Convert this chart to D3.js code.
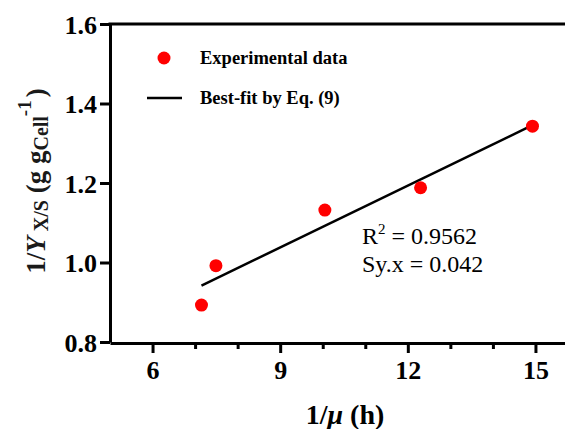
<!DOCTYPE html>
<html>
<head>
<meta charset="utf-8">
<script src="https://cdn.jsdelivr.net/npm/d3@7"></script>
<style>
  body { margin: 0; background: #fff; }
  svg { display: block; font-family: "Liberation Serif", "Times New Roman", serif; }
</style>
</head>
<body>
<svg id="chart" width="565" height="429"></svg>
<script>
// data
const invMu = [7.15, 7.49, 10.05, 12.30, 14.93];
const invY = [0.893, 0.992, 1.132, 1.188, 1.343];
const yTicks = [0.8, 1.0, 1.2, 1.4, 1.6];
const xMajor = [6, 9, 12, 15];
const xMinor = [7, 8, 10, 11, 13, 14];
const stats = ['0.9562', '0.042'];

var svg = d3.select('#chart');

var x = d3.scaleLinear().domain([5, 16]).range([110, 578]);
var y = d3.scaleLinear().domain([0.8, 1.6]).range([342, 24]);

// least squares fit of the points
var mx = d3.mean(invMu), my = d3.mean(invY);
var sxy = d3.sum(invMu, function(d, i) { return (d - mx) * (invY[i] - my); });
var sxx = d3.sum(invMu, function(d) { return (d - mx) * (d - mx); });
var slope = sxy / sxx, icpt = my - slope * mx;
var fitX = d3.extent(invMu);

// y axis
var yAxis = svg.append('g')
	.attr('transform', 'translate(110,0)')
	.call(d3.axisLeft(y).tickValues(yTicks).tickFormat(d3.format('.1f')).tickSize(10).tickSizeOuter(0).tickPadding(3));
yAxis.select('.domain').attr('stroke-width', 3);
yAxis.selectAll('.tick line').attr('stroke-width', 3);
yAxis.selectAll('.tick text')
	.attr('font-size', 26).attr('font-weight', 'bold').attr('fill', '#000')
	.attr('font-family', '"Liberation Serif", serif')
	.attr('dy', '0.36em');

// top frame line
svg.append('line')
	.attr('x1', x(5) - 1.5).attr('x2', 565)
	.attr('y1', y(1.6)).attr('y2', y(1.6))
	.attr('stroke', '#000').attr('stroke-width', 3);

// x axis
var xAxis = svg.append('g')
	.attr('transform', 'translate(0,' + 343 + ')')
	.call(d3.axisBottom(x).tickValues(xMajor).tickSize(10).tickSizeOuter(0).tickPadding(8));
xAxis.select('.domain').attr('stroke-width', 3);
xAxis.selectAll('.tick line').attr('stroke-width', 3);
xAxis.selectAll('.tick text')
	.attr('font-size', 26).attr('font-weight', 'bold').attr('fill', '#000')
	.attr('font-family', '"Liberation Serif", serif');

var xMin = svg.append('g')
	.attr('transform', 'translate(0,' + 343 + ')')
	.call(d3.axisBottom(x).tickValues(xMinor).tickSize(6).tickFormat(''));
xMin.select('.domain').remove();
xMin.selectAll('.tick line').attr('stroke-width', 3);

// fit line
svg.append('line')
	.attr('x1', x(fitX[0])).attr('y1', y(icpt + slope * fitX[0]))
	.attr('x2', x(fitX[1])).attr('y2', y(icpt + slope * fitX[1]))
	.attr('stroke', '#000').attr('stroke-width', 2.5);

// points
svg.append('g').selectAll('circle')
	.data(invMu)
	.enter()
	.append('circle')
	.attr('cx', function(d) { return x(d); })
	.attr('cy', function(d, i) { return y(invY[i]); })
	.attr('r', 6.5)
	.attr('fill', '#ff0000');

// legend
var leg = svg.append('g').attr('font-size', 18.5).attr('font-weight', 'bold');
leg.append('circle').attr('cx', 164).attr('cy', 58).attr('r', 6.5).attr('fill', '#ff0000');
leg.append('text').attr('x', 200).attr('y', 64).text('Experimental data');
leg.append('line').attr('x1', 147).attr('x2', 182).attr('y1', 98).attr('y2', 98)
	.attr('stroke', '#000').attr('stroke-width', 2.5);
leg.append('text').attr('x', 200).attr('y', 104).text('Best-fit by Eq. (9)');

// stats text
var st = svg.append('g').attr('font-size', 24);
var t1 = st.append('text').attr('x', 362).attr('y', 244);
t1.append('tspan').text('R');
t1.append('tspan').attr('font-size', 15).attr('dy', -10).text('2');
t1.append('tspan').attr('dy', 10).text(' = ' + stats[0]);
st.append('text').attr('x', 362).attr('y', 272).text('Sy.x = ' + stats[1]);

// x axis title
var xt = svg.append('text')
	.attr('x', 345).attr('y', 424)
	.attr('text-anchor', 'middle')
	.attr('font-size', 28).attr('font-weight', 'bold');
xt.append('tspan').text('1/');
xt.append('tspan').attr('font-style', 'italic').text('\u03bc');
xt.append('tspan').text(' (h)');

// y axis title
var yt = svg.append('text')
	.attr('transform', 'translate(45,181) rotate(-90)')
	.attr('text-anchor', 'middle')
	.attr('font-size', 27).attr('font-weight', 'bold').attr('fill', '#1a1a1a');
yt.append('tspan').text('1/');
yt.append('tspan').attr('font-style', 'italic').text('Y');
yt.append('tspan').attr('font-size', 20).attr('dy', 3).text(' X/S');
yt.append('tspan').attr('dy', -3).text(' (g g');
yt.append('tspan').attr('font-size', 20).attr('dy', 3).text('Cell');
yt.append('tspan').attr('font-size', 19).attr('dy', -17).text('-1');
yt.append('tspan').attr('dx', 3).attr('dy', 14).text(')');
</script>
</body>
</html>
